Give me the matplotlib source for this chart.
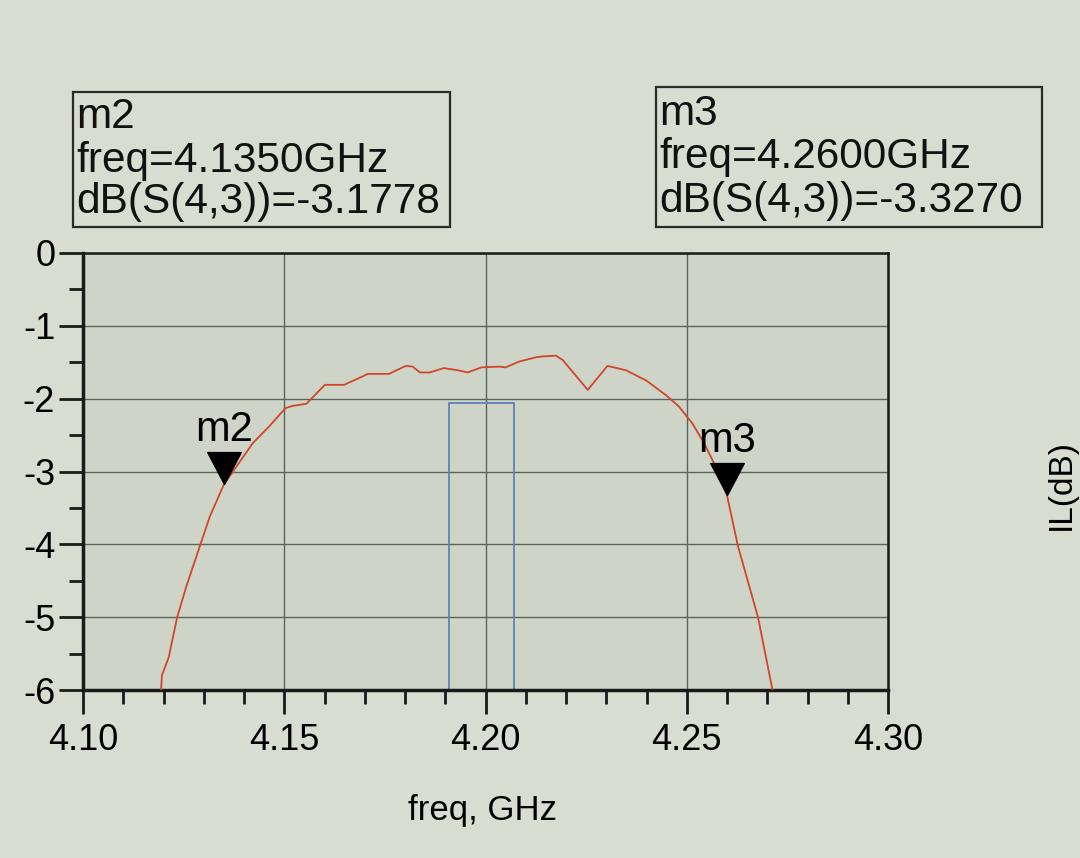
import matplotlib
matplotlib.use("Agg")
import matplotlib.pyplot as plt
import numpy as np
from matplotlib.path import Path
from matplotlib.patches import Rectangle
from matplotlib.ticker import MultipleLocator, FormatStrFormatter

plt.rcParams["font.family"] = ["Liberation Sans", "DejaVu Sans"]
plt.rcParams["axes.unicode_minus"] = False

# dB(S(4,3)) trace
freq = [4.1194, 4.1196, 4.1213, 4.1234, 4.1256, 4.1290, 4.1315, 4.1350,
        4.1422, 4.1461, 4.1503, 4.1520, 4.1555, 4.1601, 4.1649, 4.1708,
        4.1760, 4.1802, 4.1819, 4.1837, 4.1862, 4.1896, 4.1931, 4.1956,
        4.1990, 4.2035, 4.2050, 4.2084, 4.2127, 4.2142, 4.2175, 4.2192,
        4.2254, 4.2303, 4.2349, 4.2399, 4.2448, 4.2481, 4.2514, 4.2543,
        4.2568, 4.2600, 4.2627, 4.2677, 4.2713]
s43_db = [-6.0, -5.80, -5.55, -5.0, -4.59, -4.03, -3.62, -3.178,
          -2.61, -2.39, -2.13, -2.10, -2.07, -1.81, -1.81, -1.66,
          -1.66, -1.55, -1.56, -1.64, -1.64, -1.58, -1.61, -1.64,
          -1.57, -1.56, -1.57, -1.49, -1.43, -1.42, -1.41, -1.47,
          -1.88, -1.55, -1.61, -1.75, -1.95, -2.11, -2.34, -2.61,
          -2.89, -3.327, -4.02, -5.0, -6.0]

# blue spec/limit box
spec_freq = [4.191, 4.191, 4.207, 4.207]
spec_db = [-6.0, -2.06, -2.06, -6.0]

# markers
marker_names = ["m2", "m3"]
marker_freq = [4.1350, 4.2600]
marker_db = [-3.1778, -3.3270]

fig = plt.figure(figsize=(10.8, 8.58), dpi=100)
fig.patch.set_facecolor("#d8ddd1")
ax = fig.add_axes([83 / 1080, 1 - 690 / 858, (888 - 83) / 1080, (690 - 253) / 858])
ax.set_facecolor("#ced5c8")

ax.plot(freq, s43_db, color="#d2452a", lw=1.3, zorder=3)
ax.plot(spec_freq, spec_db, color="#5d83b8", lw=1.3, zorder=2)

# downward triangle with its tip on the data point
tri = Path([(-1.05, 2.0), (1.05, 2.0), (0.0, 0.0), (-1.05, 2.0)],
           [Path.MOVETO, Path.LINETO, Path.LINETO, Path.CLOSEPOLY])
for name, f, d in zip(marker_names, marker_freq, marker_db):
    ax.plot([f], [d], marker=tri, markersize=46, color="black", zorder=5)
    ax.annotate(name, (f, d), xytext=(0, 25), textcoords="offset points",
                ha="center", va="bottom", fontsize=30, zorder=6)

ax.set_xlim(4.10, 4.30)
ax.set_ylim(-6, 0)
ax.xaxis.set_major_locator(MultipleLocator(0.05))
ax.xaxis.set_minor_locator(MultipleLocator(0.01))
ax.yaxis.set_major_locator(MultipleLocator(1))
ax.yaxis.set_minor_locator(MultipleLocator(0.5))
ax.xaxis.set_major_formatter(FormatStrFormatter("%.2f"))
ax.yaxis.set_major_formatter(FormatStrFormatter("%d"))
ax.tick_params(axis="both", which="major", direction="out", length=17,
               width=2, labelsize=26, color="#1a1a1a")
ax.tick_params(axis="x", which="major", pad=7)
ax.tick_params(axis="y", which="major", pad=3)
ax.tick_params(axis="both", which="minor", direction="out", length=10,
               width=2, color="#1a1a1a")
ax.grid(True, which="major", color="#5c625c", lw=1.0)
for side in ["left", "bottom"]:
    ax.spines[side].set_linewidth(2.5)
for side in ["top", "right"]:
    ax.spines[side].set_linewidth(1.8)
for sp in ax.spines.values():
    sp.set_color("#1a1a1a")

# marker readout boxes
def readout(x0, x1, y0, y1, lines, tx, baselines):
    fig.patches.append(Rectangle((x0 / 1080, 1 - y1 / 858), (x1 - x0) / 1080,
                                 (y1 - y0) / 858, transform=fig.transFigure,
                                 fill=False, edgecolor="#2a2a2a", lw=1.6))
    for txt, b in zip(lines, baselines):
        fig.text(tx / 1080, 1 - b / 858, txt, fontsize=30.5, va="baseline",
                 ha="left", color="#111111")

readout(73, 450, 92, 227,
        ["m2", "freq=4.1350GHz", "dB(S(4,3))=-3.1778"], 76, [128, 172, 213])
readout(656, 1042, 87, 227,
        ["m3", "freq=4.2600GHz", "dB(S(4,3))=-3.3270"], 659, [125, 168, 212])

fig.text(483 / 1080, 1 - 820 / 858, "freq, GHz", fontsize=25,
         ha="center", va="baseline")
fig.text(1061 / 1080, 1 - 485 / 858, "IL(dB)", fontsize=24, rotation=90,
         ha="center", va="center")

fig.savefig("out.png", dpi=100, facecolor=fig.get_facecolor())
